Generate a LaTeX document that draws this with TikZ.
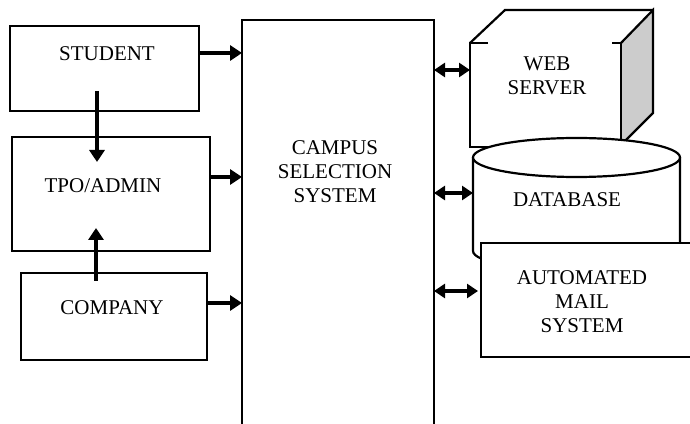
\documentclass[tikz,border=0pt]{standalone}
\usepackage{fontspec}
\setmainfont{Liberation Serif}
\usetikzlibrary{arrows.meta}
\begin{document}
\begin{tikzpicture}[x=1pt,y=1pt,
  box/.style={draw, line width=2.2pt, fill=white, inner sep=0pt, outer sep=0pt},
  lbl/.style={font=\fontsize{21}{24}\selectfont, align=center, inner sep=0pt},
  edge/.style={line width=2.2pt, line join=miter},
  arr/.style={line width=3.6pt, -{Triangle[length=12pt,width=15pt]}},
  darr/.style={line width=3.6pt, {Triangle[length=11pt,width=14pt]}-{Triangle[length=11pt,width=14pt]}}]
\useasboundingbox (0,0) rectangle (690,423);

% left boxes
\node[box, minimum width=189pt, minimum height=85pt] (student) at (104.5,354.5) {};
\node[box, minimum width=198pt, minimum height=114pt] (tpo) at (111,229) {};
\node[box, minimum width=186pt, minimum height=87pt] (company) at (114,106.5) {};

% campus selection system (open at the bottom)
\node[box, minimum width=192pt, minimum height=413pt] (campus) at (338,196.5) {};

% web server (3D box)
\fill[black!20] (621,380) -- (653,413) -- (653,310) -- (621,278) -- cycle;
\draw[edge] (621,380) -- (653,413) -- (653,310) -- (621,278);
\draw[edge] (470,380) -- (505,413) -- (653,413);
\fill[white] (470,380) rectangle (621,276);
\draw[edge] (488,380) -- (470,380) -- (470,276) -- (621,276) -- (621,380) -- (612,380);
\node[inner sep=0pt, outer sep=0pt, minimum width=151pt, minimum height=104pt] (web) at (545.5,328) {};

% database cylinder
\filldraw[edge, fill=white] (473,265.5) -- (473,172) arc[start angle=180, end angle=360, x radius=103.5, y radius=19.5] -- (680,265.5);
\filldraw[edge, fill=white] (576.5,265.5) ellipse [x radius=103.5, y radius=19.5];
\coordinate (db) at (473,230);

% automated mail system
\node[box, minimum width=219pt, minimum height=114pt] (mail) at (590.5,123) {};

% labels
\node[lbl] (tstudent) at (107,369) {STUDENT};
\node[lbl] (ttpo) at (103,237) {TPO/ADMIN};
\node[lbl] (tcompany) at (112,115) {COMPANY};
\node[lbl] (tcampus) at (335,251) {CAMPUS\\SELECTION\\SYSTEM};
\node[lbl] (tweb) at (547,347.5) {WEB\\SERVER};
\node[lbl] (tdb) at (567,223) {DATABASE};
\node[lbl] (tmail) at (582,121) {AUTOMATED\\MAIL\\SYSTEM};

% connectors
\draw[arr] (student.east |- 0,370) -- (campus.west |- 0,370);
\draw[arr] (tpo.east |- 0,246) -- (campus.west |- 0,246);
\draw[arr] (company.east |- 0,120) -- (campus.west |- 0,120);
\draw[arr] (student.south -| 97,0) ++(0,20) -- (97,261);
\draw[arr] (company.north -| 96,0) ++(0,-8) -- (96,195);
\draw[darr] (campus.east |- 0,353) -- (web.west |- 0,353);
\draw[darr] (campus.east |- 0,230) -- (db);
\draw[darr] (campus.east |- 0,132) -- ([xshift=-3pt]mail.west |- 0,132);
\end{tikzpicture}
\end{document}
